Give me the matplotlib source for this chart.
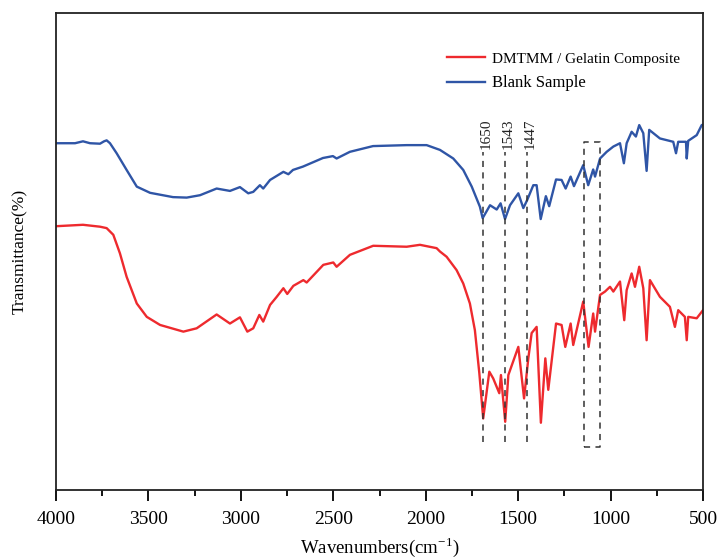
import matplotlib.pyplot as plt
from matplotlib.lines import Line2D

# --- spectra (wavenumber in cm-1, transmittance in arbitrary %) ---
blank_wn = [4000, 3897, 3854, 3816, 3762, 3740, 3726, 3708, 3672, 3618, 3563, 3491,
            3367, 3293, 3221, 3131, 3059, 3005, 2960, 2933, 2897, 2879, 2842, 2770,
            2743, 2718, 2664, 2556, 2502, 2482, 2410, 2285, 2103, 1995, 1923, 1851,
            1797, 1751, 1707, 1692, 1652, 1616, 1595, 1571, 1544, 1499, 1472, 1451,
            1418, 1400, 1378, 1350, 1332, 1295, 1265, 1243, 1216, 1198, 1148, 1121,
            1094, 1084, 1057, 1021, 985, 949, 928, 913, 886, 863, 845, 823, 805, 791,
            733, 661, 646, 634, 592, 588, 580, 534, 507, 500]
blank_t = [72.7, 72.7, 73.1, 72.7, 72.6, 73.1, 73.3, 72.7, 70.6, 67.1, 63.6, 62.3,
           61.4, 61.3, 61.8, 63.2, 62.7, 63.5, 62.2, 62.5, 63.9, 63.2, 65.0, 66.7,
           66.2, 67.1, 67.8, 69.6, 70.0, 69.5, 70.9, 72.1, 72.3, 72.3, 71.3, 69.5,
           67.1, 63.6, 59.4, 57.0, 59.7, 58.8, 60.1, 56.8, 59.7, 62.2, 59.1, 60.8,
           63.9, 63.9, 56.8, 61.6, 59.5, 65.1, 65.0, 63.2, 65.7, 63.7, 68.1, 63.9,
           67.2, 65.7, 69.5, 70.9, 72.0, 72.7, 68.5, 72.7, 75.1, 74.1, 76.5, 74.8,
           66.9, 75.5, 73.7, 73.0, 70.6, 73.0, 73.0, 69.5, 73.2, 74.4, 76.5, 76.6]

comp_wn = [4000, 3854, 3762, 3726, 3690, 3654, 3618, 3563, 3509, 3437, 3311, 3239,
           3131, 3059, 3005, 2965, 2933, 2900, 2879, 2842, 2806, 2770, 2749, 2716,
           2662, 2644, 2554, 2500, 2482, 2410, 2284, 2103, 2031, 1941, 1923, 1887,
           1833, 1797, 1761, 1734, 1710, 1689, 1656, 1635, 1602, 1593, 1570, 1553,
           1499, 1468, 1445, 1427, 1400, 1377, 1353, 1337, 1295, 1265, 1245, 1216,
           1202, 1148, 1119, 1094, 1084, 1057, 1030, 1003, 985, 949, 926, 913, 886,
           868, 845, 823, 805, 787, 733, 679, 652, 634, 598, 588, 580, 534, 500]
comp_t = [55.3, 55.6, 55.2, 54.9, 53.5, 49.6, 44.7, 39.1, 36.3, 34.6, 33.2, 33.9,
          36.8, 34.9, 36.2, 33.2, 33.9, 36.7, 35.3, 38.8, 40.5, 42.3, 41.1, 42.8,
          44.0, 43.5, 47.2, 47.7, 46.8, 49.3, 51.2, 51.0, 51.4, 50.7, 50.0, 48.9,
          46.1, 43.3, 39.1, 33.5, 24.5, 15.0, 24.8, 23.4, 20.3, 24.1, 14.3, 24.1,
          30.0, 19.2, 27.6, 32.9, 34.2, 14.1, 27.6, 21.0, 34.9, 34.6, 30.0, 34.9,
          30.4, 39.5, 30.0, 37.0, 33.2, 40.9, 41.6, 42.6, 41.6, 43.7, 35.6, 41.9,
          45.4, 42.6, 46.8, 42.3, 31.4, 44.0, 40.5, 38.4, 34.2, 37.7, 36.3, 31.4,
          36.3, 36.0, 37.7]

# marked bands: where the dashed line sits and the label printed on it
peak_pos = [1690, 1571, 1452]
peak_labels = ["1650", "1543", "1447"]

# dashed box around the 1145-1057 region
box_wn = [1144, 1057]
box_t = [9.1, 73.0]

x_ticks = [4000, 3500, 3000, 2500, 2000, 1500, 1000, 500]


def plotar_ftir():
    plt.rcParams['font.family'] = ['Liberation Serif', 'DejaVu Serif']
    plt.rcParams['mathtext.fontset'] = 'custom'
    plt.rcParams['mathtext.rm'] = 'Liberation Serif'

    fig = plt.figure(figsize=(7.17, 5.59), dpi=100)
    ax = fig.add_axes([56 / 717, 69 / 559, 647 / 717, 477 / 559])

    ax.plot(comp_wn, comp_t, color='#ee2a2e', linewidth=1.7)
    ax.plot(blank_wn, blank_t, color='#2f55a6', linewidth=1.7)

    # dashed marker lines with rotated labels
    for pos, lab in zip(peak_pos, peak_labels):
        ax.plot([pos, pos], [10.0, 70.9], color='#333333', linewidth=1.1,
                linestyle=(0, (4, 3.5)))
        ax.annotate(lab, xy=(pos, 71.5), xytext=(2.5, 0), textcoords='offset points',
                    rotation=90, ha='center', va='bottom', fontsize=11, color='#222222')

    ax.plot([box_wn[0], box_wn[1], box_wn[1], box_wn[0], box_wn[0]],
            [box_t[0], box_t[0], box_t[1], box_t[1], box_t[0]],
            color='#333333', linewidth=1.1, linestyle=(0, (4, 3.5)))

    ax.set_xlim(4000, 500)
    ax.set_ylim(0, 100)
    ax.set_xticks(x_ticks)
    ax.set_xticks(range(3750, 500, -500), minor=True)
    ax.set_yticks([])
    ax.tick_params(axis='x', which='major', direction='out', length=8, width=1.3,
                   labelsize=14, pad=7)
    ax.tick_params(axis='x', which='minor', direction='out', length=4, width=1.3)
    for s in ax.spines.values():
        s.set_linewidth(1.3)
        s.set_color('#222222')

    ax.set_xlabel('Wavenumbers(cm$^{-1}$)', fontsize=13.5)
    ax.xaxis.set_label_coords(0.5, -0.095)
    ax.set_ylabel('Transmittance(%)', fontsize=12.5)
    ax.yaxis.set_label_coords(-0.043, 0.5)

    handles = [Line2D([], [], color='#ee2a2e', linewidth=1.7),
               Line2D([], [], color='#2f55a6', linewidth=1.7)]
    leg = ax.legend(handles, ['DMTMM / Gelatin Composite', 'Blank Sample'],
                    loc='upper left', bbox_to_anchor=(447 / 717, 1 - 52 / 559),
                    bbox_transform=fig.transFigure, frameon=False, fontsize=11,
                    handlelength=2.5, handletextpad=0.45, labelspacing=0.6,
                    borderpad=0, borderaxespad=0)
    leg.get_texts()[1].set_fontsize(12)

    fig.savefig('out.png', dpi=100)


if __name__ == '__main__':
    plotar_ftir()
